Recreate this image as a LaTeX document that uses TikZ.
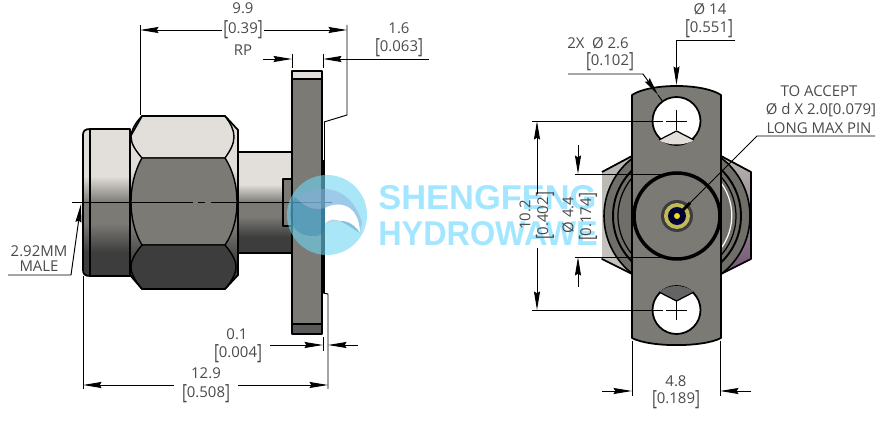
\documentclass[tikz,border=0pt]{standalone}
\usepackage{fontspec}
\usepackage{graphicx}
\setmainfont{Open Sans}
\newfontfamily\markfont{Liberation Sans}
\usetikzlibrary{arrows.meta}
\definecolor{bodygray}{HTML}{7B7A75}
\definecolor{bodylight}{HTML}{E2DEDA}
\definecolor{bodydark}{HTML}{3D3D3D}
\definecolor{dimtextcol}{HTML}{4A4A4A}
\definecolor{markcol}{HTML}{A2E6FF}
\definecolor{logocyan}{HTML}{6FD6F2}
\definecolor{logoband}{HTML}{8FA8D8}
\definecolor{logodark}{HTML}{2070A8}
\pgfdeclareverticalshading{barrel}{100bp}{color(0bp)=(bodydark); color(33bp)=(bodydark); color(43bp)=(bodygray); color(50bp)=(bodygray); color(59bp)=(bodylight); color(100bp)=(bodylight)}
\newcommand{\inch}[1]{\raisebox{-1.5pt}{\scalebox{1}[1.4]{[}}#1\raisebox{-1.5pt}{\scalebox{1}[1.4]{]}}}
\tikzstyle{dimtext} = [font=\fontsize{8.5}{10}\selectfont,text=dimtextcol,inner sep=1pt,outer sep=0pt]
\tikzstyle{dimline} = [draw=black,line width=0.55pt]
\tikzstyle{dimarrow} = [dimline,-{Stealth[length=10.5pt,width=3.4pt,inset=1pt]}]
\tikzstyle{outline} = [draw=black,line width=1pt,line join=round]
\tikzstyle{marktext} = [font=\markfont\bfseries\fontsize{19.6}{22}\selectfont,text=markcol,inner sep=0pt,anchor=west]

\begin{document}
\begin{tikzpicture}[x=0.02cm,y=-0.02cm]
	\useasboundingbox (0,0) rectangle (887,432);

	\shade[shading=barrel] (90,129) -- (130,129) -- (130,276) -- (90,276) .. controls (85,276) and (83,274) .. (83,270) -- (83,135) .. controls (83,131) and (85,129) .. (90,129) -- cycle;
	\draw[outline] (90,129) -- (130,129) -- (130,276) -- (90,276) .. controls (85,276) and (83,274) .. (83,270) -- (83,135) .. controls (83,131) and (85,129) .. (90,129) -- cycle;
	\draw[line width=1.1pt] (90,129) -- (90,276);

	\shade[shading=barrel] (238,152) rectangle (292,253);
	\draw[outline] (292,152) -- (238,152) (238,253) -- (292,253);

	\shade[shading=barrel] (130,137) -- (142,116) -- (225,116) -- (238,130) -- (238,275) -- (225,289) -- (142,289) -- (130,275) -- cycle;
	\fill[bodylight,outline,line width=0.8pt] (142,116) -- (225,116) .. controls (231,124) and (234,130) .. (234,137) .. controls (234,144) and (230,151) .. (225,158) -- (142,158) .. controls (136,151) and (131,144) .. (131,137) .. controls (131,130) and (136,122) .. (142,116) -- cycle;
	\fill[bodygray,outline,line width=0.8pt] (142,158) -- (225,158) .. controls (234,172) and (237,188) .. (237,202) .. controls (237,216) and (234,232) .. (225,245) -- (142,245) .. controls (134,232) and (131,216) .. (131,202) .. controls (131,188) and (134,172) .. (142,158) -- cycle;
	\fill[bodydark,outline,line width=0.8pt] (142,245) -- (225,245) .. controls (231,252) and (236,260) .. (236,267) .. controls (236,274) and (231,282) .. (225,289) -- (142,289) .. controls (136,282) and (131,274) .. (131,267) .. controls (131,260) and (136,252) .. (142,245) -- cycle;
	\draw[outline] (130,137) -- (142,116) -- (225,116) -- (238,130) -- (238,275) -- (225,289) -- (142,289) -- (130,275) -- cycle;

	\fill[bodylight] (292,71) rectangle (322,79);
	\fill[bodygray] (292,79) rectangle (322,324);
	\fill[bodydark!85!white] (292,324) rectangle (322,334);
	\fill[bodygray,outline] (292,179) -- (283,179) -- (283,226) -- (292,226);
	\fill[bodygray] (284,180) rectangle (293,225);
	\draw[outline] (292,71) rectangle (322,334);
	\draw[outline] (292,79) -- (322,79) (292,324) -- (322,324);
	\draw[line width=1.2pt] (323.5,160) -- (323.5,293);
	\draw[dimline] (324,122) -- (324,160);

	\draw[dimline] (72,202) -- (193,202) (198,202) -- (205,202) (211,202) -- (332,202);

	\node[marktext] (brand1) at (378,198) {SHENGFENG};
	\node[marktext] (brand2) at (378,234) {\scalebox{0.94}[1]{HYDROWAWE}};

	\shade[top color=bodylight!60!bodygray,bottom color=bodylight!75!bodygray] (602,172) -- (632,156) -- (721,156) -- (751,172) -- (751,259) -- (721,274) -- (632,274) -- (602,259) -- cycle;
	\shade[top color=bodylight!60!bodygray,bottom color=bodydark!70!violet!80!white] (721,156) -- (751,172) -- (751,259) -- (721,274) -- cycle;
	\draw[outline] (602,172) -- (632,156) (721,156) -- (751,172) -- (751,259) -- (721,274) (632,274) -- (602,259) -- cycle;
	\node[circle,minimum size=2.92cm,inner sep=0pt,draw=black,line width=0.9pt,fill=bodygray!90!black] (nutouter) at (677,216) {};
	\node[circle,minimum size=2.56cm,inner sep=0pt,draw=black,line width=1.1pt] (nutmid) at (677,216) {};
	\node[circle,minimum size=2.36cm,inner sep=0pt,draw=black,line width=0.7pt] (nutinner) at (677,216) {};
	\draw[white,line width=0.7pt] (715,176) arc[start angle=-46,end angle=46,radius=55];

	\fill[bodygray,outline] (632,95) .. controls (650,83) and (703,83) .. (721,95) -- (721,338) .. controls (703,347.5) and (650,347.5) .. (632,338) -- cycle;
	\node[circle,minimum size=1.72cm,inner sep=0pt,draw=black,line width=2pt] (ring) at (677,216) {};
	\node[circle,minimum size=0.64cm,inner sep=0pt,fill=bodydark] (pinouter) at (677,216) {};
	\node[circle,minimum size=0.52cm,inner sep=0pt,fill=olive!55!white] (pinmid) at (677,216) {};
	\node[circle,minimum size=0.36cm,inner sep=0pt,fill=blue!20!black] (pininner) at (677,216) {};
	\node[circle,minimum size=0.12cm,inner sep=0pt,fill=yellow!90!black] (pin) at (677,216) {};

	\node[circle,minimum size=0.96cm,inner sep=0pt,draw=black,line width=1pt,fill=white] (holetop) at (676.5,121) {};
	\node[circle,minimum size=0.96cm,inner sep=0pt,draw=black,line width=1pt,fill=white] (holebot) at (676.5,310) {};
	\fill[bodylight] (676.5,131) -- (659,140) .. controls (668,146) and (685,146) .. (694,140) -- cycle;
	\draw[line width=0.7pt] (676.5,131) -- (659,140) (676.5,131) -- (694,140);
	\fill[bodydark!80!white] (676.5,301) -- (659,292) .. controls (668,284) and (685,284) .. (694,292) -- cycle;
	\draw[line width=0.7pt] (676.5,301) -- (659,292) (676.5,301) -- (694,292);
	\draw[dimline] (676.5,110) -- (676.5,130) (676.5,300) -- (676.5,320);

	% dimensions of the side view
	\node[dimtext] (len99) at (243,8) {9.9};
	\node[dimtext] (inch039) at (243,30) {\inch{0.39}};
	\node[dimtext] (rp) at (243,50) {RP};
	\coordinate (extl) at (140,25);
	\coordinate (extr) at (347,25);
	\coordinate (tipl) at (140,30);
	\coordinate (tipr) at (347,30);
	\draw[dimline] (extl) -- (140,115);
	\draw[dimline] (extr) -- (347,115) -- (324,122);
	\draw[dimarrow] (inch039) -- (tipl);
	\draw[dimarrow] (inch039) -- (tipr);

	\node[dimtext] (len16) at (399,28) {1.6};
	\node[dimtext] (inch063) at (399,48) {\inch{0.063}};
	\coordinate (flangel) at (292,59);
	\coordinate (flanger) at (323,59);
	\coordinate (endl) at (263,59);
	\coordinate (endr) at (429,59);
	\draw[dimline] (292,54) -- (292,68) (323,54) -- (323,68);
	\draw[dimarrow] (endl) -- (flangel);
	\draw[dimarrow] (endr) -- (flanger);

	\node[dimtext] (male1) at (39,251) {2.92MM};
	\node[dimtext] (male2) at (39,266) {MALE};
	\coordinate (malea) at (8,275);
	\coordinate (maleb) at (71,275);
	\coordinate (malec) at (81,204);
	\draw[dimarrow] (malea) -- (maleb) -- (malec);

	\node[dimtext] (len01) at (237,334) {0.1};
	\node[dimtext] (inch004) at (238,354) {\inch{0.004}};
	\coordinate (gapl) at (323,345);
	\coordinate (gapr) at (328,345);
	\coordinate (gapla) at (270,345);
	\coordinate (gapra) at (358,345);
	\draw[dimline] (323,337) -- (323,351);
	\draw[dimline] (323,293) -- (328,294) -- (328,389);
	\draw[dimarrow] (gapla) -- (gapl);
	\draw[dimarrow] (gapra) -- (gapr);

	\node[dimtext] (len129) at (206,373) {12.9};
	\node[dimtext] (inch508) at (206,394) {\inch{0.508}};
	\coordinate (alll) at (83,385);
	\coordinate (allr) at (328,385);
	\draw[dimline] (83,276) -- (83,389);
	\draw[dimarrow] (174,385) -- (alll);
	\draw[dimarrow] (238,385) -- (allr);

	% dimensions of the end view
	\node[dimtext] (dia14) at (710,9) {Ø 14};
	\node[dimtext] (inch551) at (709,29) {\inch{0.551}};
	\coordinate (topa) at (735,40);
	\coordinate (topb) at (676.5,40);
	\coordinate (topc) at (676.5,85);
	\draw[dimarrow] (topa) -- (topb) -- (topc);

	\node[dimtext] (dia26) at (598,43) {2X\ \ Ø 2.6};
	\node[dimtext] (inch102) at (610,62) {\inch{0.102}};
	\coordinate (holea) at (568,74);
	\coordinate (holeb) at (643,74);
	\coordinate (holec) at (658,95);
	\draw[dimarrow] (holea) -- (holeb) -- (holec);
	\draw[dimline] (holec) -- (holetop);

	\node[dimtext] (accept1) at (819,91) {TO ACCEPT};
	\node[dimtext] (accept2) at (821,110) {Ø d X 2.0[0.079]};
	\node[dimtext] (accept3) at (819,128) {LONG MAX PIN};
	\coordinate (pina) at (875,136);
	\coordinate (pinb) at (757,136);
	\coordinate (pinc) at (683,210);
	\draw[dimline] (pina) -- (pinb) -- (pinc);
	\draw[line width=1.8pt] (690,203) -- (pinc);

	\node[dimtext,rotate=90] (len102) at (525,215) {10.2};
	\node[dimtext,rotate=90] (inch402) at (545,216) {\inch{0.402}};
	\coordinate (cena) at (532,121);
	\coordinate (cenb) at (532,310);
	\coordinate (arra) at (537,121);
	\coordinate (arrb) at (537,310);
	\draw[dimline] (cena) -- (663,121) (666,121) -- (687,121);
	\draw[dimline] (cenb) -- (663,310) (666,310) -- (687,310);
	\draw[dimarrow] (537,194) -- (arra);
	\draw[dimarrow] (537,248) -- (arrb);

	\node[dimtext,rotate=90] (dia44) at (568,215) {Ø 4.4};
	\node[dimtext,rotate=90] (inch174) at (588,217) {\inch{0.174}};
	\coordinate (bora) at (578,174);
	\coordinate (borb) at (578,257);
	\draw[dimline] (575,174) -- (663,174) (575,257) -- (663,257);
	\draw[dimarrow] (578,145) -- (bora);
	\draw[dimarrow] (578,287) -- (borb);

	\node[dimtext] (wid48) at (676,381) {4.8};
	\node[dimtext] (inch189) at (676,400) {\inch{0.189}};
	\coordinate (widl) at (632,391);
	\coordinate (widr) at (720,391);
	\draw[dimline] (632,341) -- (632,396) (720,341) -- (720,396);
	\draw[dimarrow] (602,391) -- (widl);
	\draw[dimarrow] (751,391) -- (widr);

	% logo over the drawing
	\fill[logocyan,opacity=0.6] (327,215) circle (40);
	\fill[logoband,opacity=0.45] (295,197) .. controls (315,186) and (348,180) .. (362,222) -- (360,233) .. controls (359,205) and (340,200) .. (325,208) .. controls (312,212) and (303,205) .. (295,197) -- cycle;
	\fill[white] (360,233) .. controls (359,205) and (340,200) .. (325,208) -- (325,224) .. controls (340,218) and (352,220) .. (360,233) -- cycle;
	\fill[logodark,opacity=0.3] (295,197) .. controls (285,215) and (290,237) .. (315,236) .. controls (325,236) and (325,226) .. (325,224) .. controls (340,218) and (352,220) .. (360,233) .. controls (350,228) and (335,212) .. (325,224) -- (325,208) .. controls (312,212) and (303,205) .. (295,197) -- cycle;
\end{tikzpicture}
\end{document}
